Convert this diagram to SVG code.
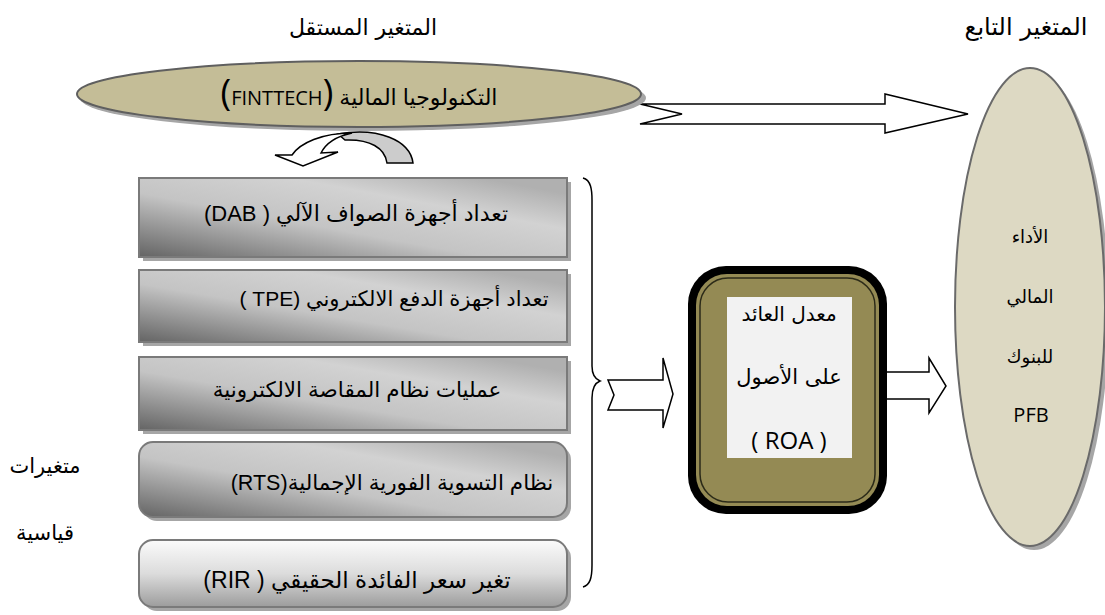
<svg xmlns="http://www.w3.org/2000/svg" width="1105" height="615" viewBox="0 0 1105 615">
<style>
.ar{font-family:"DejaVu Sans",sans-serif;fill:#000}
.mx{font-family:"Liberation Sans","DejaVu Sans",sans-serif;fill:#000;direction:rtl;unicode-bidi:embed}
.ltr{direction:ltr;unicode-bidi:embed}
.lat{font-family:"Open Sans","Liberation Sans",sans-serif;fill:#000}
.box{stroke:#7a7a7a;stroke-width:2}
.shadow{fill:#a6a6a6}
.arrow{fill:#fff;stroke:#000;stroke-width:1.5;stroke-linejoin:miter}
</style>
<defs>
<linearGradient id="gDark" x1="0" y1="1" x2="0.9" y2="0.1">
<stop offset="0" stop-color="#646464"/>
<stop offset="0.45" stop-color="#c4c4c4"/>
<stop offset="0.75" stop-color="#d2d2d2"/>
<stop offset="1" stop-color="#b0b0b0"/>
</linearGradient>
<linearGradient id="gLight" x1="0" y1="0" x2="0" y2="1">
<stop offset="0" stop-color="#fbfbfb"/>
<stop offset="0.5" stop-color="#dcdcdc"/>
<stop offset="1" stop-color="#9c9c9c"/>
</linearGradient>
</defs>

<!-- titles -->
<text class="ar" x="363" y="35" font-size="22" text-anchor="middle" direction="rtl">المتغير المستقل</text>
<text class="ar" x="1026" y="35" font-size="24" text-anchor="middle" direction="rtl">المتغير التابع</text>

<!-- side label -->
<text class="ar" x="45" y="473" font-size="21" text-anchor="middle" direction="rtl">متغيرات</text>
<text class="ar" x="45" y="540" font-size="21" text-anchor="middle" direction="rtl">قياسية</text>

<g id="connectors">
<path class="arrow" d="M640 104 L885 104 L885 94 L968 114 L885 133 L885 124 L640 124 L682 114 Z"/>
<path class="arrow" d="M608 380 L663 380 L663 358 L673 394 L663 428 L663 410 L608 410 L614 395 Z"/>
<path class="arrow" d="M880 372 L929 372 L929 358 L946 386 L929 413 L929 399 L880 399 Z"/>
<path d="M583 178 C591 180 592 190 592 200 L592 366 C592 375 595 379 600 381 C595 383 592 388 592 398 L592 565 C592 578 590 585 583 587" fill="none" stroke="#000" stroke-width="1.5"/>
<!-- curved arrow under top ellipse -->
<path d="M338 134 C378 127 410 140 413 163 L387 163 C385 148 370 139 345 140 Z" fill="#cccccc" stroke="#000" stroke-width="1.5"/>
<path d="M352 133 C322 133 300 143 292 155 L275 155 L303 166 L338 152 L321 153 C326 143 338 136 352 133 Z" fill="#fff" stroke="#000" stroke-width="1.5" stroke-linejoin="miter"/>
</g>

<g id="node-fintech">
<ellipse class="shadow" cx="363" cy="98" rx="283" ry="33"/>
<ellipse cx="359" cy="94" rx="282" ry="33" fill="#c4bd97" stroke="#5f5f5f" stroke-width="2"/>
<text class="mx" x="359" y="105" font-size="22" text-anchor="middle">التكنولوجيا المالية <tspan class="ltr"><tspan class="lat" font-size="36">(</tspan><tspan class="lat" font-size="20">FINTTECH</tspan><tspan class="lat" font-size="36">)</tspan></tspan></text>
</g>

<g id="node-dab">
<rect class="shadow" x="143" y="182" width="428" height="79"/>
<rect class="box" x="139" y="178" width="428" height="79" fill="url(#gDark)"/>
<text class="mx" x="356" y="221" font-size="22" text-anchor="middle">تعداد أجهزة الصواف الآلي  <tspan class="ltr">(DAB )</tspan></text>
</g>

<g id="node-tpe">
<rect class="shadow" x="143" y="274" width="428" height="72"/>
<rect class="box" x="139" y="270" width="428" height="72" fill="url(#gDark)"/>
<text class="mx" x="394" y="306" font-size="21" text-anchor="middle">تعداد أجهزة الدفع الالكتروني <tspan class="ltr">( TPE)</tspan></text>
</g>

<g id="node-clearing">
<rect class="shadow" x="143" y="361" width="428" height="73"/>
<rect class="box" x="139" y="357" width="428" height="73" fill="url(#gDark)"/>
<text class="mx" x="357" y="397" font-size="21.5" text-anchor="middle">عمليات نظام المقاصة الالكترونية</text>
</g>

<g id="node-rts">
<rect class="shadow" x="143" y="446" width="428" height="75" rx="14"/>
<rect class="box" x="139" y="442" width="428" height="75" rx="14" fill="url(#gDark)"/>
<text class="mx" x="392" y="490" font-size="21.5" text-anchor="middle">نظام التسوية الفورية الإجمالية<tspan class="ltr">(RTS)</tspan></text>
</g>

<g id="node-rir">
<rect class="shadow" x="143" y="544" width="428" height="67" rx="14"/>
<rect class="box" x="139" y="540" width="428" height="67" rx="14" fill="url(#gLight)"/>
<text class="mx" x="357" y="588" font-size="23" text-anchor="middle">تغير سعر الفائدة الحقيقي  <tspan class="ltr">(RIR )</tspan></text>
</g>

<g id="node-roa">
<rect x="688" y="266" width="199" height="248" rx="38" fill="#000"/>
<rect x="696" y="274" width="183" height="232" rx="31" fill="#948a54"/>
<rect x="700" y="278" width="175" height="224" rx="28" fill="none" stroke="#2b2a18" stroke-width="1.5"/>
<rect x="727" y="297" width="125" height="161" fill="#f2f2f2"/>
<text class="ar" x="789" y="321" font-size="20" text-anchor="middle" direction="rtl">معدل العائد</text>
<text class="ar" x="789" y="384" font-size="21" text-anchor="middle" direction="rtl">على الأصول</text>
<text class="lat" x="789" y="449" font-size="24" text-anchor="middle">( ROA )</text>
</g>

<g id="node-pfb">
<ellipse class="shadow" cx="1034" cy="311" rx="75" ry="239"/>
<ellipse cx="1030" cy="307" rx="75" ry="239" fill="#ddd9c3" stroke="#6a6a6a" stroke-width="2"/>
<text class="ar" x="1030" y="243" font-size="18" text-anchor="middle" direction="rtl">الأداء</text>
<text class="ar" x="1030" y="303" font-size="18" text-anchor="middle" direction="rtl">المالي</text>
<text class="ar" x="1030" y="363" font-size="18" text-anchor="middle" direction="rtl">للبنوك</text>
<text class="lat" x="1031" y="422" font-size="20" text-anchor="middle">PFB</text>
</g>
</svg>
